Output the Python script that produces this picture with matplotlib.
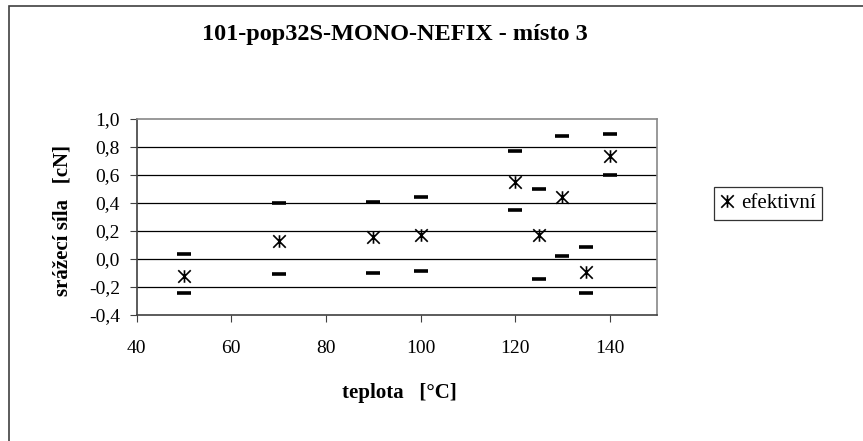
import matplotlib.pyplot as plt
from matplotlib.patches import Rectangle
from matplotlib.path import Path

# teplota [°C] and measured shrink force [cN]
teplota = [50, 70, 90, 100, 120, 125, 130, 135, 140]
efektivni = [-0.12, 0.13, 0.155, 0.17, 0.55, 0.17, 0.445, -0.093, 0.735]
horni = [0.035, 0.40, 0.41, 0.44, 0.77, 0.50, 0.88, 0.085, 0.89]
dolni = [-0.24, -0.11, -0.10, -0.088, 0.35, -0.14, 0.02, -0.245, 0.60]

yticks = [-0.4, -0.2, 0.0, 0.2, 0.4, 0.6, 0.8, 1.0]
xticks = [40, 60, 80, 100, 120, 140]

plt.rcParams['font.family'] = ['Liberation Serif', 'DejaVu Serif']

# Excel-like star: an X with a vertical bar
star = Path([(-1, -1), (1, 1), (-1, 1), (1, -1), (0, -1), (0, 1)],
            [Path.MOVETO, Path.LINETO, Path.MOVETO, Path.LINETO, Path.MOVETO, Path.LINETO])

fig = plt.figure(figsize=(8.63, 4.41), dpi=100)
ax = fig.add_axes([0.1584, 0.2857, 0.6029, 0.4445])

# outer chart frame (only top and left edges are visible in the picture)
fig.patches.append(Rectangle((9 / 863, -0.1), 1.2, 1 - 5.5 / 441 + 0.1,
                             transform=fig.transFigure, fill=False,
                             edgecolor='#404040', linewidth=1.2))

for y in yticks[1:-1]:
    ax.axhline(y, color='black', linewidth=0.9, zorder=1)

ax.plot(teplota, horni, linestyle='none', marker='_', markersize=9.5,
        markeredgewidth=2.6, color='black', zorder=3)
ax.plot(teplota, dolni, linestyle='none', marker='_', markersize=9.5,
        markeredgewidth=2.6, color='black', zorder=3)
ax.plot(teplota, efektivni, linestyle='none', marker=star, markersize=9,
        markeredgewidth=1.2, color='black', zorder=3, label='efektivní')

ax.set_xlim(40, 150)
ax.set_ylim(-0.4, 1.0)
ax.set_xticks(xticks)
ax.set_yticks(yticks)
ax.set_yticklabels([f'{v:.1f}'.replace('.', ',') for v in yticks])
ax.tick_params(labelsize=14, length=5, width=0.8, color='#404040')
ax.tick_params(axis='x', pad=13)
ax.tick_params(axis='y', pad=7)

for side in ['top', 'right']:
    ax.spines[side].set_color('#888888')
    ax.spines[side].set_linewidth(1.2)
for side in ['left', 'bottom']:
    ax.spines[side].set_color('#404040')
    ax.spines[side].set_linewidth(1.2)

ax.set_xlabel('teplota   [°C]', fontsize=15, fontweight='bold')
ax.xaxis.set_label_coords(0.504, -0.345)
ax.set_ylabel('srážecí síla   [cN]', fontsize=15, fontweight='bold')
ax.yaxis.set_label_coords(-0.123, 0.48)
fig.text(0.458, 0.921, '101-pop32S-MONO-NEFIX - místo 3', ha='center', va='center',
         fontsize=17.5, fontweight='bold')

leg = ax.legend(loc='center left', bbox_to_anchor=(1.109, 0.569), fontsize=15,
                frameon=True, fancybox=False, handlelength=0.7, handletextpad=0.3,
                borderpad=0.3, borderaxespad=0)
leg.get_frame().set_edgecolor('black')
leg.get_frame().set_linewidth(0.9)

fig.savefig('out.png', dpi=100)
